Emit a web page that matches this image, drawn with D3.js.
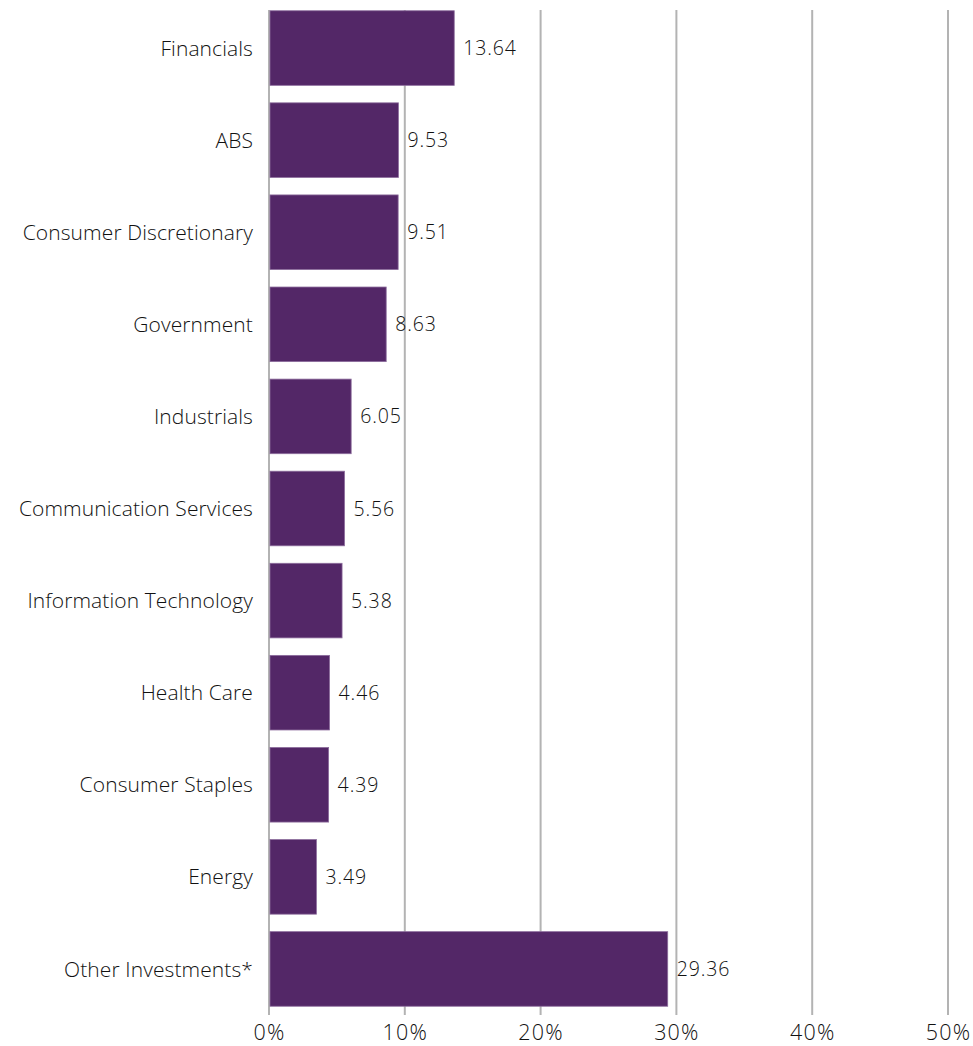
<!DOCTYPE html>
<html>
<head>
<meta charset="utf-8">
<script src="https://cdn.jsdelivr.net/npm/d3@7"></script>
<style>
  html, body { margin: 0; padding: 0; background: #fff; }
  svg { display: block; }
</style>
</head>
<body>
<svg id="chart" width="973" height="1046"></svg>
<script>
// Sector weights (%)
const categories = [
  "Financials", "ABS", "Consumer Discretionary", "Government", "Industrials",
  "Communication Services", "Information Technology", "Health Care",
  "Consumer Staples", "Energy", "Other Investments*"
];
const values = [13.64, 9.53, 9.51, 8.63, 6.05, 5.56, 5.38, 4.46, 4.39, 3.49, 29.36];
const xTicks = [0, 10, 20, 30, 40, 50];

(function () {
  const svg = d3.select("#chart");
  const plot = { left: 269, right: 948, top: 2, bottom: 1015 };
  const font = "'Open Sans', Lato, sans-serif";

  const x = d3.scaleLinear().domain([0, 50]).range([plot.left, plot.right]);
  const y = d3.scaleBand().domain(categories).range([plot.top, plot.bottom])
    .paddingInner(0.19).paddingOuter(0.095);

  // vertical gridlines
  svg.append("g").selectAll("line").data(xTicks).join("line")
    .attr("x1", d => x(d)).attr("x2", d => x(d))
    .attr("y1", 10).attr("y2", 1015)
    .attr("stroke", "#b3b3b3").attr("stroke-width", 2);

  // bars
  svg.append("g").selectAll("rect").data(values).join("rect")
    .attr("x", x(0) + 1)
    .attr("y", (d, i) => y(categories[i]))
    .attr("width", d => x(d) - x(0) - 1)
    .attr("height", y.bandwidth())
    .attr("fill", "#532767")
    .attr("stroke", "#8c6c9c").attr("stroke-width", 0.8);

  // value labels
  svg.append("g").selectAll("text").data(values).join("text")
    .attr("x", d => x(d) + 9)
    .attr("y", (d, i) => y(categories[i]) + y.bandwidth() / 2)
    .attr("dy", "0.36em")
    .attr("font-family", font).attr("font-weight", 300)
    .attr("font-size", 19.5).attr("letter-spacing", 0.9).attr("fill", "#111")
    .text(d => d.toFixed(2));

  // category labels
  svg.append("g").selectAll("text").data(categories).join("text")
    .attr("x", 253)
    .attr("y", d => y(d) + y.bandwidth() / 2)
    .attr("dy", "0.36em")
    .attr("text-anchor", "end")
    .attr("font-family", font).attr("font-weight", 300)
    .attr("font-size", 21).attr("letter-spacing", 0.1).attr("fill", "#111")
    .text(d => d);

  // x axis tick labels
  const xAxis = d3.axisBottom(x).tickValues(xTicks).tickSize(0).tickFormat(d => d + "%");
  const gx = svg.append("g").attr("transform", "translate(0,1040)").call(xAxis);
  gx.select(".domain").remove();
  gx.selectAll("text").attr("font-family", font).attr("font-weight", 300)
    .attr("font-size", 21.5).attr("letter-spacing", 1.2).attr("fill", "#111")
    .attr("y", 0).attr("dy", 0);
})();
</script>
</body>
</html>
